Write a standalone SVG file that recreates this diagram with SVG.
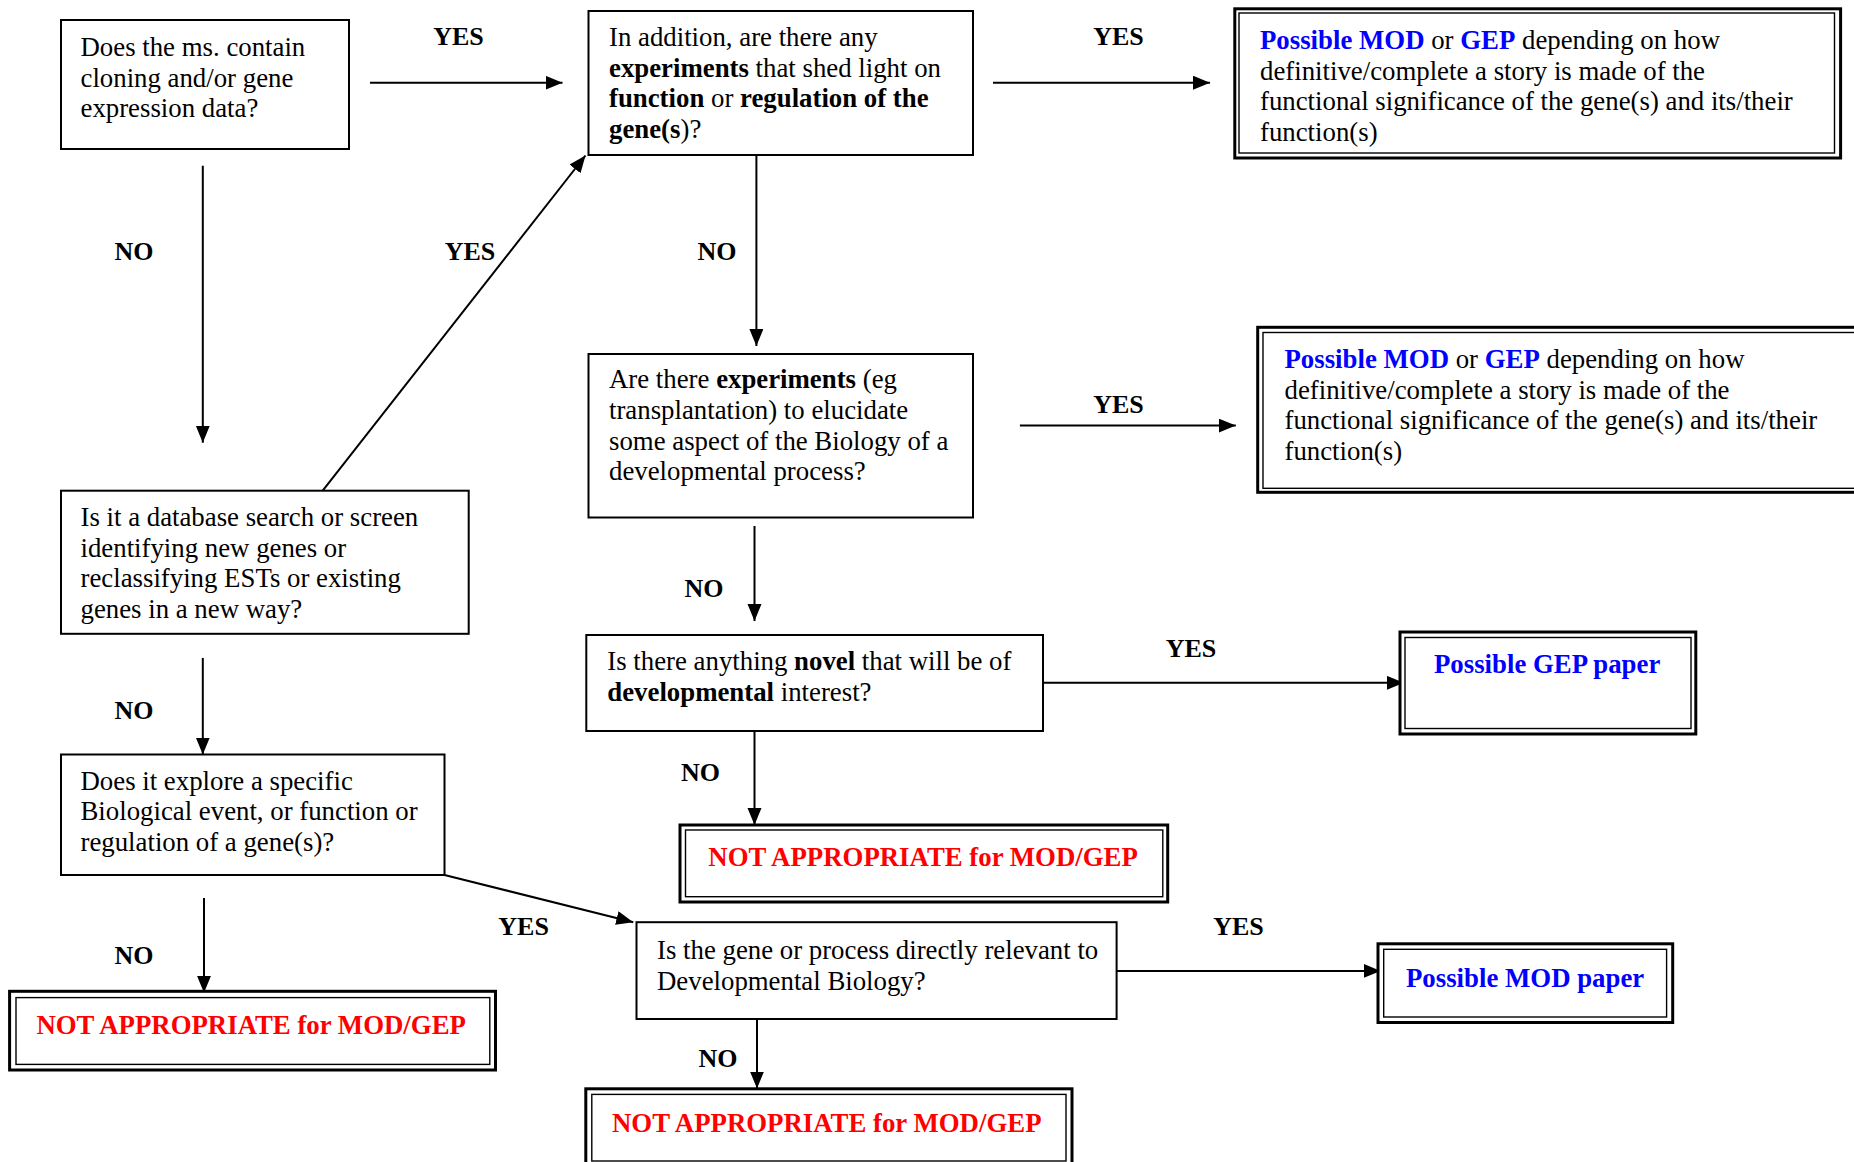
<svg xmlns="http://www.w3.org/2000/svg" width="1854" height="1162" viewBox="0 0 1854 1162">
<style>
text{font-family:"Liberation Serif","Times New Roman",serif;font-size:26.8px;fill:#000}
.b{font-weight:bold}
.lbl{font-weight:bold;font-size:26px;text-anchor:middle}
.blue{fill:#0000ff;font-weight:bold}
.red{fill:#ff0000;font-weight:bold}
.box{fill:#fff;stroke:#000;stroke-width:2}
.outer{fill:#fff;stroke:#000;stroke-width:3}
.inner{fill:none;stroke:#000;stroke-width:1.4}
.con{stroke:#000;stroke-width:2;fill:none;marker-end:url(#ah)}
</style>
<defs>
<marker id="ah" markerUnits="userSpaceOnUse" markerWidth="17" markerHeight="15" refX="17" refY="7" orient="auto">
<path d="M0,0 L17,7 L0,14 z" fill="#000"/>
</marker>
</defs>
<rect width="1854" height="1162" fill="#fff"/>

<g id="connectors">
<line class="con" x1="370" y1="82.7" x2="562.5" y2="82.7"/>
<line class="con" x1="993" y1="82.7" x2="1210" y2="82.7"/>
<line class="con" x1="202.8" y1="165.7" x2="202.8" y2="442.7"/>
<line class="con" x1="322.7" y1="490.7" x2="585.5" y2="155.5"/>
<line class="con" x1="756.4" y1="155" x2="756.4" y2="346"/>
<line class="con" x1="754.5" y1="526" x2="754.5" y2="621"/>
<line class="con" x1="1019.9" y1="425.6" x2="1235.8" y2="425.6"/>
<line class="con" x1="202.8" y1="658" x2="202.8" y2="754.5"/>
<line class="con" x1="204" y1="898" x2="204" y2="992.8"/>
<line class="con" x1="444.5" y1="875" x2="633.3" y2="922.2"/>
<line class="con" x1="754.5" y1="731" x2="754.5" y2="825"/>
<line class="con" x1="1043" y1="682.8" x2="1403.8" y2="682.8"/>
<line class="con" x1="1116.6" y1="970.9" x2="1380.6" y2="970.9"/>
<line class="con" x1="757" y1="1019" x2="757" y2="1088.5"/>
<text class="lbl" x="458.5" y="45">YES</text>
<text class="lbl" x="1118.5" y="45">YES</text>
<text class="lbl" x="134" y="260">NO</text>
<text class="lbl" x="470" y="260">YES</text>
<text class="lbl" x="717" y="260">NO</text>
<text class="lbl" x="704" y="597">NO</text>
<text class="lbl" x="1118.5" y="412.6">YES</text>
<text class="lbl" x="134" y="719">NO</text>
<text class="lbl" x="134" y="964">NO</text>
<text class="lbl" x="523.6" y="934.5">YES</text>
<text class="lbl" x="700.5" y="781">NO</text>
<text class="lbl" x="1191" y="657">YES</text>
<text class="lbl" x="1238.5" y="934.5">YES</text>
<text class="lbl" x="718" y="1067">NO</text>
</g>

<g id="q1">
<rect class="box" x="61" y="20" width="288" height="129" stroke-width="1.6"/>
<text x="80.5" y="56">Does the ms. contain</text>
<text x="80.5" y="86.6">cloning and/or gene</text>
<text x="80.5" y="117.2">expression data?</text>
</g>

<g id="q2">
<rect class="box" x="588.5" y="11" width="384.5" height="144"/>
<text x="609" y="46">In addition, are there any</text>
<text x="609" y="76.6"><tspan class="b">experiments</tspan> that shed light on</text>
<text x="609" y="107.2"><tspan class="b">function</tspan> or <tspan class="b">regulation of the</tspan></text>
<text x="609" y="137.8"><tspan class="b">gene(s</tspan>)?</text>
</g>

<g id="r1">
<rect class="outer" x="1234.8" y="8.8" width="605.8" height="149.2"/>
<rect class="inner" x="1239" y="13" width="595.5" height="140"/>
<text x="1260" y="49"><tspan class="blue">Possible MOD</tspan> or <tspan class="blue">GEP</tspan> depending on how</text>
<text x="1260" y="79.6">definitive/complete a story is made of the</text>
<text x="1260" y="110.2">functional significance of the gene(s) and its/their</text>
<text x="1260" y="140.8">function(s)</text>
</g>

<g id="q3">
<rect class="box" x="588.5" y="354" width="384.5" height="163.5"/>
<text x="609" y="388.4">Are there <tspan class="b">experiments</tspan> (eg</text>
<text x="609" y="419">transplantation) to elucidate</text>
<text x="609" y="449.6">some aspect of the Biology of a</text>
<text x="609" y="480.2">developmental process?</text>
</g>

<g id="r2">
<rect class="outer" x="1257.7" y="327.3" width="620" height="165"/>
<rect class="inner" x="1263" y="332.5" width="610" height="155.8"/>
<text x="1284.5" y="368.2"><tspan class="blue">Possible MOD</tspan> or <tspan class="blue">GEP</tspan> depending on how</text>
<text x="1284.5" y="398.8">definitive/complete a story is made of the</text>
<text x="1284.5" y="429.4">functional significance of the gene(s) and its/their</text>
<text x="1284.5" y="460">function(s)</text>
</g>

<g id="q4">
<rect class="box" x="61" y="490.7" width="407.7" height="143.1" stroke-width="1.6"/>
<text x="80.5" y="526">Is it a database search or screen</text>
<text x="80.5" y="556.6">identifying new genes or</text>
<text x="80.5" y="587.2">reclassifying ESTs or existing</text>
<text x="80.5" y="617.8">genes in a new way?</text>
</g>

<g id="q5">
<rect class="box" x="586.3" y="635" width="456.7" height="96"/>
<text x="607.3" y="670">Is there anything <tspan class="b">novel</tspan> that will be of</text>
<text x="607.3" y="701.2"><tspan class="b">developmental</tspan> interest?</text>
</g>

<g id="r3">
<rect class="outer" x="1400" y="632" width="295.8" height="102"/>
<rect class="inner" x="1405" y="637.5" width="286" height="91"/>
<text class="blue" x="1434" y="672.8">Possible GEP paper</text>
</g>

<g id="q6">
<rect class="box" x="61" y="754.5" width="383.5" height="120.5" stroke-width="1.6"/>
<text x="80.5" y="789.6">Does it explore a specific</text>
<text x="80.5" y="820.1">Biological event, or function or</text>
<text x="80.5" y="850.6">regulation of a gene(s)?</text>
</g>

<g id="n1">
<rect class="outer" x="680" y="825" width="487.7" height="77"/>
<rect class="inner" x="685.5" y="830" width="477.3" height="66.7"/>
<text class="red" x="708.3" y="865.7">NOT APPROPRIATE for MOD/GEP</text>
</g>

<g id="q7">
<rect class="box" x="636.5" y="922.2" width="480.1" height="96.8"/>
<text x="657" y="958.6">Is the gene or process directly relevant to</text>
<text x="657" y="990.1">Developmental Biology?</text>
</g>

<g id="r4">
<rect class="outer" x="1378" y="943.8" width="294.7" height="78.7"/>
<rect class="inner" x="1383.7" y="949.3" width="282.9" height="67.7"/>
<text class="blue" x="1406" y="986.5">Possible MOD paper</text>
</g>

<g id="n2">
<rect class="outer" x="9.6" y="991.3" width="485.9" height="78.7"/>
<rect class="inner" x="16" y="997.6" width="473.8" height="66.8"/>
<text class="red" x="36.4" y="1033.6">NOT APPROPRIATE for MOD/GEP</text>
</g>

<g id="n3">
<rect class="outer" x="585.8" y="1088.8" width="486.2" height="78"/>
<rect class="inner" x="591.8" y="1094.4" width="474.2" height="66.6"/>
<text class="red" x="612" y="1131.6">NOT APPROPRIATE for MOD/GEP</text>
</g>
</svg>
